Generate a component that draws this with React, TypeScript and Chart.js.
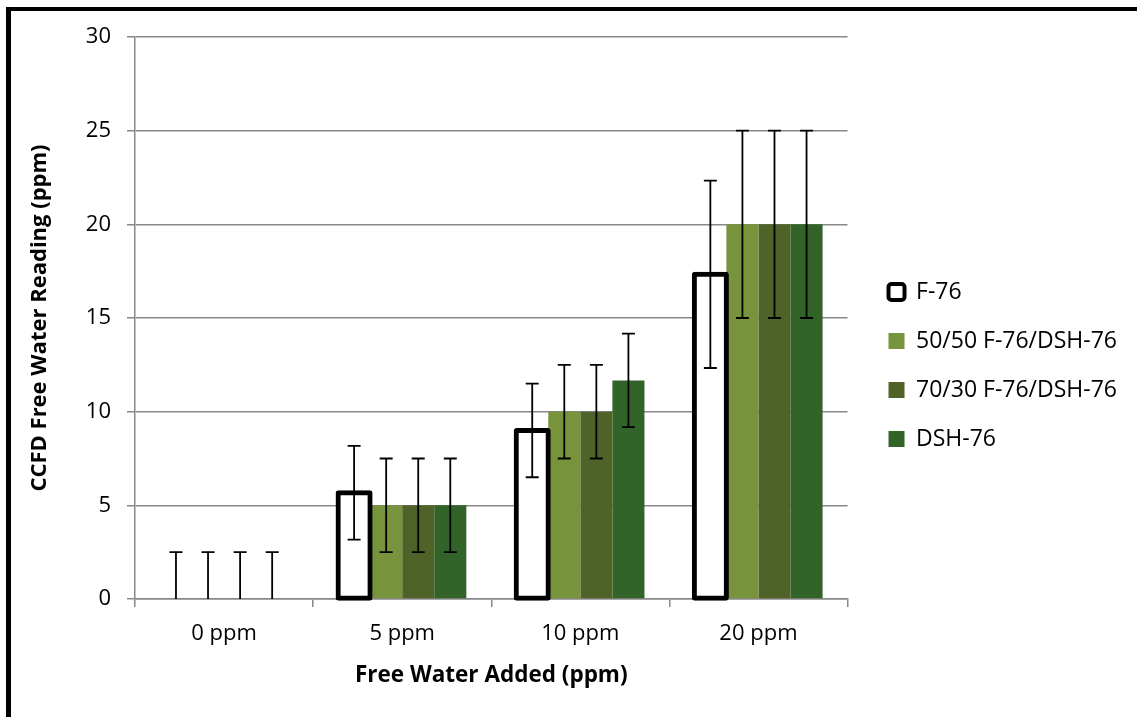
import React, { useEffect, useRef } from "react";
import { Chart, registerables } from "chart.js";

Chart.register(...registerables);

// ---- data ----
const categories = ["0 ppm", "5 ppm", "10 ppm", "20 ppm"];
const seriesNames = ["F-76", "50/50 F-76/DSH-76", "70/30 F-76/DSH-76", "DSH-76"];
const f76 = [0, 5.67, 9, 17.33];
const mix5050 = [0, 5, 10, 20];
const mix7030 = [0, 5, 10, 20];
const dsh76 = [0, 5, 11.67, 20];
const f76Err = [2.5, 2.5, 2.5, 5];
const mix5050Err = [2.5, 2.5, 2.5, 5];
const mix7030Err = [2.5, 2.5, 2.5, 5];
const dsh76Err = [2.5, 2.5, 2.5, 5];
const yTickValues = [0, 5, 10, 15, 20, 25, 30];
const xTitle = "Free Water Added (ppm)";
const yTitle = "CCFD Free Water Reading (ppm)";

// ---- styles ----
const FONT = "'Open Sans', sans-serif";
const GRID = "#888888";
const COLORS = ["#ffffff", "#77933C", "#4F6228", "#326429"];

const errorBarPlugin = {
  id: "errorBars",
  afterDatasetsDraw(chart: any) {
    const { ctx, chartArea } = chart;
    const yScale = chart.scales.y;
    ctx.save();
    ctx.beginPath();
    ctx.rect(chartArea.left, chartArea.top, chartArea.right - chartArea.left, chartArea.bottom - chartArea.top);
    ctx.clip();
    ctx.strokeStyle = "#000";
    ctx.lineWidth = 1.8;
    chart.data.datasets.forEach((ds: any, i: number) => {
      const meta = chart.getDatasetMeta(i);
      meta.data.forEach((el: any, j: number) => {
        const v = ds.data[j];
        const e = ds.errors[j];
        const x = el.x;
        const yHi = yScale.getPixelForValue(v + e);
        const yLo = yScale.getPixelForValue(v - e);
        const cap = 6.5;
        ctx.beginPath();
        ctx.moveTo(x, yLo);
        ctx.lineTo(x, yHi);
        ctx.moveTo(x - cap, yHi);
        ctx.lineTo(x + cap, yHi);
        ctx.moveTo(x - cap, yLo);
        ctx.lineTo(x + cap, yLo);
        ctx.stroke();
      });
    });
    ctx.restore();
  },
};

export default function App() {
  const ref = useRef<HTMLCanvasElement | null>(null);

  useEffect(() => {
    if (!ref.current) return;
    Chart.defaults.font.family = FONT;
    Chart.defaults.color = "#000";
    const values = [f76, mix5050, mix7030, dsh76];
    const errs = [f76Err, mix5050Err, mix7030Err, dsh76Err];
    const datasets: any[] = values.map((vals, i) => ({
      label: seriesNames[i],
      data: vals,
      errors: errs[i],
      backgroundColor: COLORS[i],
      borderColor: i === 0 ? "#000" : COLORS[i],
      borderWidth: i === 0 ? 5 : 0,
      borderSkipped: false,
      borderRadius: i === 0 ? 3 : 0,
      inflateAmount: (c: any) => (i === 0 && c.raw !== 0 ? 2.5 : 0),
      clip: false,
    }));

    const chart = new Chart(ref.current, {
      type: "bar",
      data: { labels: categories, datasets },
      plugins: [errorBarPlugin],
      options: {
        animation: false,
        responsive: false,
        devicePixelRatio: 1,
        datasets: { bar: { barPercentage: 1, categoryPercentage: 0.72 } },
        layout: { padding: { left: 20, top: 37, right: 10, bottom: 23 } },
        plugins: {
          tooltip: { enabled: false },
          legend: {
            position: "right",
            align: "center",
            maxWidth: 320,
            labels: {
              font: { size: 23, family: FONT },
              color: "#000",
              boxWidth: 16,
              boxHeight: 16,
              padding: 26,
              useBorderRadius: true,
              generateLabels: () =>
                seriesNames.map((name, i) => ({
                  text: name,
                  datasetIndex: i,
                  fillStyle: COLORS[i],
                  strokeStyle: "#000",
                  lineWidth: i === 0 ? 4 : 0,
                  borderRadius: i === 0 ? 3 : 0,
                  hidden: false,
                  fontColor: "#000",
                })),
            },
          },
        },
        scales: {
          x: {
            offset: true,
            grid: {
              display: true,
              offset: true,
              drawOnChartArea: false,
              drawTicks: true,
              tickLength: 8,
              color: GRID,
              lineWidth: 1.5,
            },
            border: { display: true, color: GRID, width: 1.5 },
            ticks: { font: { size: 22, family: FONT }, color: "#000", padding: 14 },
            title: {
              display: true,
              text: xTitle,
              color: "#000",
              font: { size: 22.5, weight: "bold", family: FONT },
              padding: { top: 0, bottom: 5 },
            },
            afterFit: (s: any) => {
              s.height = 95;
            },
          },
          y: {
            min: 0,
            max: 30,
            afterBuildTicks: (s: any) => {
              s.ticks = yTickValues.map((v) => ({ value: v }));
            },
            grid: { color: GRID, lineWidth: 1.5, tickLength: 8 },
            border: { display: true, color: GRID, width: 1.5 },
            ticks: { font: { size: 22, family: FONT }, color: "#000", padding: 16 },
            title: {
              display: true,
              text: yTitle,
              color: "#000",
              font: { size: 22, weight: "bold", family: FONT },
              padding: { top: 7, bottom: 0 },
            },
            afterFit: (s: any) => {
              s.width = 115;
            },
          },
          gap: {
            type: "linear",
            position: "right",
            display: true,
            grid: { display: false },
            ticks: { display: false },
            border: { display: false },
            afterFit: (s: any) => {
              s.width = 15;
            },
          },
        },
      } as any,
    });
    return () => chart.destroy();
  }, []);

  return (
    <div>
      <canvas
        ref={ref}
        width={1137}
        height={717}
        style={{ position: "fixed", left: 0, top: 0, width: 1137, height: 717, background: "#fff" }}
      />
      <div
        style={{
          position: "fixed",
          left: 6,
          top: 7,
          width: 2000,
          height: 2000,
          borderLeft: "5px solid #000",
          borderTop: "4px solid #000",
          pointerEvents: "none",
        }}
      />
    </div>
  );
}
